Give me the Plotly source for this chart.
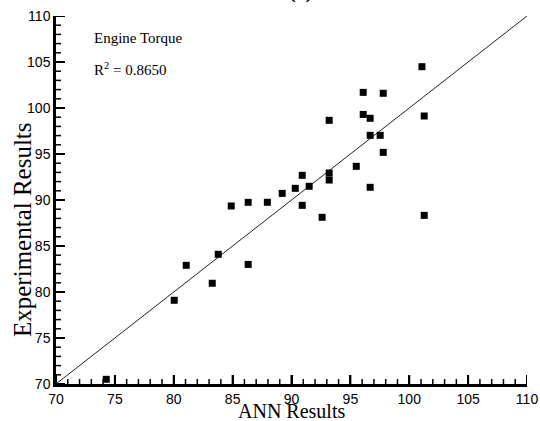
import plotly.graph_objects as go

# ANN predictions vs experimental values (engine torque)
ann_results = [74.27, 80.04, 81.06, 83.27, 83.78, 84.88, 86.32, 86.32, 87.95, 89.21,
               90.32, 90.91, 90.91, 91.50, 92.60, 93.20, 93.20, 93.20, 95.50, 96.09,
               96.09, 96.68, 96.68, 96.68, 97.53, 97.79, 97.79, 101.08, 101.27, 101.27]
exp_results = [70.51, 79.10, 82.90, 80.95, 84.10, 89.35, 89.75, 83.00, 89.75, 90.72,
               91.27, 92.68, 89.42, 91.49, 88.12, 92.93, 92.17, 98.66, 93.66, 101.70,
               99.30, 98.88, 97.03, 91.38, 97.03, 101.60, 95.18, 104.49, 99.13, 88.33]
ideal_line = [70, 110]
axis_range = [70, 110]
major_ticks = [70, 75, 80, 85, 90, 95, 100, 105, 110]
minor_ticks = [v for v in range(70, 111) if v % 5 != 0]
r_squared = "0.8650"

serif = "Liberation Serif, Times New Roman, serif"
W, H = 540, 421
ML, MR, MT, MB = 56, 13, 16, 37
PW, PH = W - ML - MR, H - MT - MB
span = axis_range[1] - axis_range[0]
px_x = PW / span   # pixels per x unit
px_y = PH / span   # pixels per y unit

fig = go.Figure()
fig.add_trace(go.Scatter(x=ideal_line, y=ideal_line, mode="lines",
                         line=dict(color="#222222", width=1)))
fig.add_trace(go.Scatter(x=ann_results, y=exp_results, mode="markers",
                         marker=dict(symbol="square", size=7, color="black")))

# inside tick marks drawn as short line segments from the tick lists
lo = axis_range[0]
for vals, length, width in ((major_ticks, 9, 2), (minor_ticks, 5, 1.5)):
    tx, ty = [], []
    for v in vals:
        tx += [v, v, None]
        ty += [lo, lo + length / px_y, None]
    fig.add_trace(go.Scatter(x=tx, y=ty, mode="lines",
                             line=dict(color="black", width=width)))
    tx, ty = [], []
    for v in vals:
        tx += [lo, lo + length / px_x, None]
        ty += [v, v, None]
    fig.add_trace(go.Scatter(x=tx, y=ty, mode="lines",
                             line=dict(color="black", width=width)))

axis_common = dict(
    range=axis_range, tickmode="array", tickvals=major_ticks,
    showgrid=False, automargin=False,
    showline=True, linecolor="black", linewidth=2.5,
    ticks="inside", ticklen=9, tickwidth=2, tickcolor="black",
    tickfont=dict(family="Liberation Sans, Arial, sans-serif", size=14, color="black"),
)

fig.update_layout(
    width=W, height=H,
    margin=dict(l=ML, r=MR, t=MT, b=MB),
    paper_bgcolor="white", plot_bgcolor="white",
    showlegend=False,
    xaxis=axis_common, yaxis=axis_common,
    annotations=[
        dict(text="ANN Results", xref="paper", yref="paper",
             x=(291 - ML) / PW, y=1 - (411 - MT) / PH, xanchor="center", yanchor="middle",
             showarrow=False, font=dict(family=serif, size=20, color="black")),
        dict(text="Experimental Results", xref="paper", yref="paper", textangle=-90,
             x=(22 - ML) / PW, y=1 - (230 - MT) / PH, xanchor="center", yanchor="middle",
             showarrow=False, font=dict(family=serif, size=25, color="black")),
        dict(text="Engine Torque", xref="paper", yref="paper",
             x=(92 - ML) / PW, y=1 - (38 - MT) / PH, xanchor="left", yanchor="middle",
             showarrow=False, font=dict(family=serif, size=15, color="black")),
        dict(text="R<sup>2</sup> = " + r_squared, xref="paper", yref="paper",
             x=(92 - ML) / PW, y=1 - (69 - MT) / PH, xanchor="left", yanchor="middle",
             showarrow=False, font=dict(family=serif, size=15, color="black")),
        dict(text="<b>(a)</b>", xref="paper", yref="paper",
             x=(300 - ML) / PW, y=1 + (MT - 5) / PH, xanchor="center", yanchor="bottom",
             showarrow=False, font=dict(family=serif, size=20, color="black")),
    ],
)

fig.write_html("out.html")
